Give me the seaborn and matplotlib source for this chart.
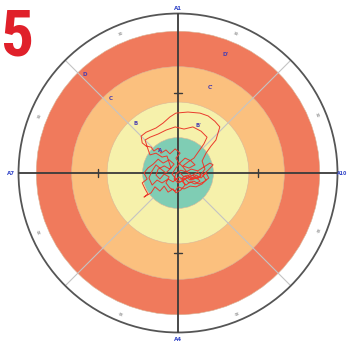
import numpy as np
import pandas as pd
import matplotlib
matplotlib.use("Agg")
import matplotlib.pyplot as plt
from matplotlib.patches import Circle
from matplotlib import font_manager
import seaborn as sns

# Target zones (radius, mm) from the centre outwards
zone_radii = [10, 20, 30, 40]
zone_colors = ["#7fcdb4", "#f6f1ab", "#fbc07e", "#f07a5c"]
outer_radius = 45
tick_radius = 22.5

# Axis labels at the ends of the cross
axis_labels = ["A1", "A4", "A7", "A10"]

# Zone letters: (text, radius, angle in degrees)
zone_letters = ["A", "B", "C", "D", "B'", "C'", "D'"]
zone_letter_r = [8.2, 18.4, 28.3, 38.3, 14.6, 25.9, 36.1]
zone_letter_ang = [128, 130, 132, 133.5, 67, 69, 68]

# Small rim labels between the zones and the outer circle
rim_labels = ["30", "30", "30", "30", "30", "30", "30", "30"]
rim_angles = [22.5, 67.5, 112.5, 157.5, 202.5, 247.5, 292.5, 337.5]

# Centre-of-pressure trace (mm)
cop_x = [0.6, 1.7, 2.8, 3.9, 5.1, 6.2, 4.8, 3.4, 2.3, 1.1, 0.0, -1.1, -0.6, 0.8, 2.3, 3.7, 5.6, 7.3, 9.0, 9.9,
         8.5, 7.0, 7.9, 6.8, 5.1, 3.4, 1.7, 0.0, -0.8, -2.3, -3.4, -2.5, -3.9, -5.1, -6.2, -5.6, -3.9, -2.3, -1.1, -2.5,
         -4.2, -5.6, -7.0, -8.5, -9.6, -8.7, -10.1, -9.3, -8.5, -9.6, -7.6, -6.5, -5.1, -3.9, -2.8, -1.4, -0.6, 0.8, 2.0, 1.1,
         2.5, 4.2, 5.4, 6.5, 5.6, 3.9, 2.5, 1.4, 0.3, -0.6, 0.6, -0.8, -2.3, -3.4, -4.8, -5.6, -6.8, -7.6,
         -9.0, -10.1, -10.4, -9.0, -6.2, -4.2, -2.3, -0.6, 2.8, 6.2, 8.5, 10.4, 11.8, 11.3, 10.7, 9.3, 7.9, 6.8, 7.6,
         6.2, 4.5, 3.1, 1.7, 0.3, -1.4, -2.8, -4.5, -5.9, -7.3, -8.2, -7.3, -6.2, -4.8, -3.4, -2.0, -3.1, -4.5, -6.2, -7.9, -8.5,
         -9.3, -7.9, -5.6, -3.4, -0.8, 1.7, 4.2, 6.5, 8.2, 7.3, 5.9, 4.5,
         2.8, 1.4, 3.1, 4.8, 3.7, 2.0, 0.8, -0.6, -1.7, -0.8, 0.6, 2.0, 3.1, 4.5, 5.9, 7.3, 8.7, 7.9, 6.5, 5.1, 3.4, 2.0, 0.8]
cop_y = [0.0, -1.1, -0.6, -2.0, -1.1, -2.3, -3.1, -2.5, -3.4, -2.3, -2.8, -1.7, -0.3, 0.8, 0.3, 1.1, 0.6, 1.7, 2.8, 2.3,
         0.8, -0.6, -2.0, -3.1, -3.9, -3.7, -4.5, -3.9, -5.1, -4.2, -2.8, -1.1, -0.3, -1.7, -0.6, 1.1, 2.0, 1.1, 2.5, 3.7,
         2.8, 3.9, 2.5, 1.4, 0.0, -1.7, -2.8, -4.5, -5.9, -6.8, -5.6, -3.9, -5.1, -3.7, -5.4, -4.5, -5.6, -4.8, -3.4, -1.7,
         -1.4, -0.6, -1.7, -0.8, 0.3, -0.8, 0.3, 1.7, 2.8, 4.2, 5.6, 6.8, 5.4, 6.5, 5.6, 7.0, 6.2, 7.3,
         7.6, 8.5, 10.4, 11.5, 12.7, 14.1, 15.8, 16.9, 17.2, 16.9, 16.1, 14.6, 13.0, 11.3, 9.3, 7.6, 5.6, 3.4, 1.1,
         -0.8, -1.7, -0.8, -2.0, -1.1, -2.5, -1.7, -2.8, -2.0, -3.4, -1.4, 0.6, 2.3, 1.1, 0.0, 1.4, 4.8, 4.5, 5.6, 5.1, 6.8,
         9.3, 10.1, 11.0, 12.1, 13.0, 12.4, 13.0, 11.8, 10.1, 8.2, 6.2, 4.2,
         3.1, 2.0, 1.4, 2.3, 3.4, 4.2, 3.1, 1.4, -0.3, -1.4, -2.5, -1.7, -2.8, -2.3, -3.1, -2.5, -1.4, 0.0, -1.4, -0.6, -2.0, -0.8, -1.7]

trace = pd.DataFrame({"x": cop_x, "y": cop_y, "step": np.arange(len(cop_x))})

sns.set_style("white")
W, H, DPI = 349, 346, 100
fig = plt.figure(figsize=(W / DPI, H / DPI), dpi=DPI)
ax = fig.add_axes([0, 0, 1, 1])
scale = 3.544  # pixels per mm
cx, cy = 178, 173
ax.set_xlim(-cx / scale, (W - cx) / scale)
ax.set_ylim(-(H - cy) / scale, cy / scale)
ax.axis("off")

# concentric zones, largest first
for r, c in sorted(zip(zone_radii, zone_colors), reverse=True):
    ax.add_patch(Circle((0, 0), r, facecolor=c, edgecolor="#d9b79a", lw=0.4, zorder=1))
ax.add_patch(Circle((0, 0), outer_radius, facecolor="none", edgecolor="#555555", lw=1.3, zorder=3))

# diagonal guides
for a in [45, 135, 225, 315]:
    t = np.deg2rad(a)
    ax.plot([zone_radii[0] * np.cos(t), outer_radius * np.cos(t)],
            [zone_radii[0] * np.sin(t), outer_radius * np.sin(t)],
            color="#c4c4c4", lw=0.8, zorder=2)

# cross
ax.plot([-outer_radius, outer_radius], [0, 0], color="#3a3a3a", lw=1.3, zorder=4)
ax.plot([0, 0], [-outer_radius, outer_radius], color="#3a3a3a", lw=1.3, zorder=4)
for s in (-1, 1):
    ax.plot([s * tick_radius] * 2, [-1.1, 1.1], color="#3a3a3a", lw=1.0, zorder=4)
    ax.plot([-1.1, 1.1], [s * tick_radius] * 2, color="#3a3a3a", lw=1.0, zorder=4)

# trace
sns.lineplot(data=trace, x="x", y="y", sort=False, estimator=None, color="#ea3a2c",
             lw=0.7, ax=ax, zorder=5)
ax.set_xlabel("")
ax.set_ylabel("")
ax.set_xlim(-cx / scale, (W - cx) / scale)
ax.set_ylim(-(H - cy) / scale, cy / scale)

# zone letters
for txt, r, a in zip(zone_letters, zone_letter_r, zone_letter_ang):
    t = np.deg2rad(a)
    ax.text(r * np.cos(t), r * np.sin(t), txt, color="#4a3fb0", fontsize=4,
            fontweight="bold", ha="center", va="center", zorder=6)

# rim labels
for txt, a in zip(rim_labels, rim_angles):
    t = np.deg2rad(a)
    ax.text(42.3 * np.cos(t), 42.3 * np.sin(t), txt, color="#6a6a6a", fontsize=3.2,
            ha="center", va="center", rotation=a - 90, zorder=6)

# axis end labels
lab_kw = dict(color="#3346c8", fontsize=4, fontweight="bold", zorder=6)
ax.text(0, 46.3, axis_labels[0], ha="center", va="center", **lab_kw)
ax.text(0, -47.0, axis_labels[1], ha="center", va="center", **lab_kw)
ax.text(-47.2, 0, axis_labels[2], ha="center", va="center", **lab_kw)
ax.text((W - 1.5 - cx) / scale, 0, axis_labels[3], ha="right", va="center",
        color="#3346c8", fontsize=3.4, fontweight="bold", zorder=6)

# panel number in a condensed face when one is available
installed = {f.name for f in font_manager.fontManager.ttflist}
condensed = [n for n in ["DejaVu Sans Condensed", "Liberation Sans Narrow", "Roboto Condensed",
                         "Open Sans Condensed"] if n in installed]
if condensed:
    fig.text(0.5 / W, 1 - 7 / H, "5", color="#e0202a", fontsize=47, fontweight="bold",
             family=condensed + ["DejaVu Sans"], ha="left", va="top")
else:
    fig.text(0.5 / W, 1 - 7 / H, "5", color="#e0202a", fontsize=47, fontweight="bold",
             family=["Liberation Sans", "DejaVu Sans"], ha="left", va="top")

fig.savefig("out.png", dpi=DPI)
